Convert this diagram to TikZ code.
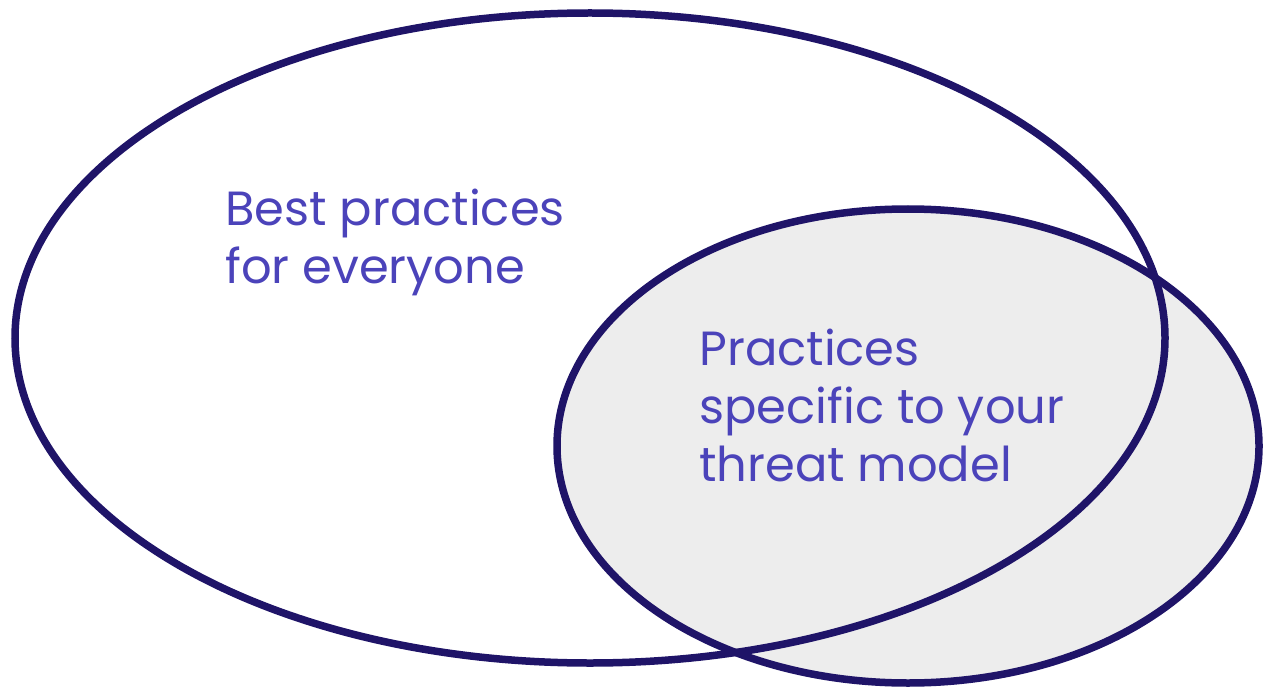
\documentclass[tikz,border=0pt]{standalone}
\usepackage{fontspec}
\setmainfont{Poppins}
\definecolor{ringblue}{HTML}{1F1468}
\definecolor{labelblue}{HTML}{4B43BA}
\definecolor{shadegray}{HTML}{EDEDED}

\begin{document}
\begin{tikzpicture}[
    ring/.style={draw=ringblue, line width=0.15cm},
    label/.style={text=labelblue, inner sep=0pt, anchor=base west, align=left,
                  font=\fontsize{27.3pt}{33pt}\selectfont}
  ]
\useasboundingbox (0,0) rectangle (25.26,13.76);

% Shade the smaller set first so both outlines stay on top
\fill[shadegray] (18.16,4.84) ellipse (7.02cm and 4.74cm);

% Draw the two sets
\draw[ring] (11.8,7.0) ellipse (11.5cm and 6.5cm);
\draw[ring] (18.16,4.84) ellipse (7.02cm and 4.74cm);

% Labels (base anchor sits on the last line)
\node[label] (everyone) at (4.5,8.10) {Best practices\\for everyone};
\node[label] (specific) at (13.98,4.14) {Practices\\specific to your\\threat model};
\end{tikzpicture}
\end{document}
